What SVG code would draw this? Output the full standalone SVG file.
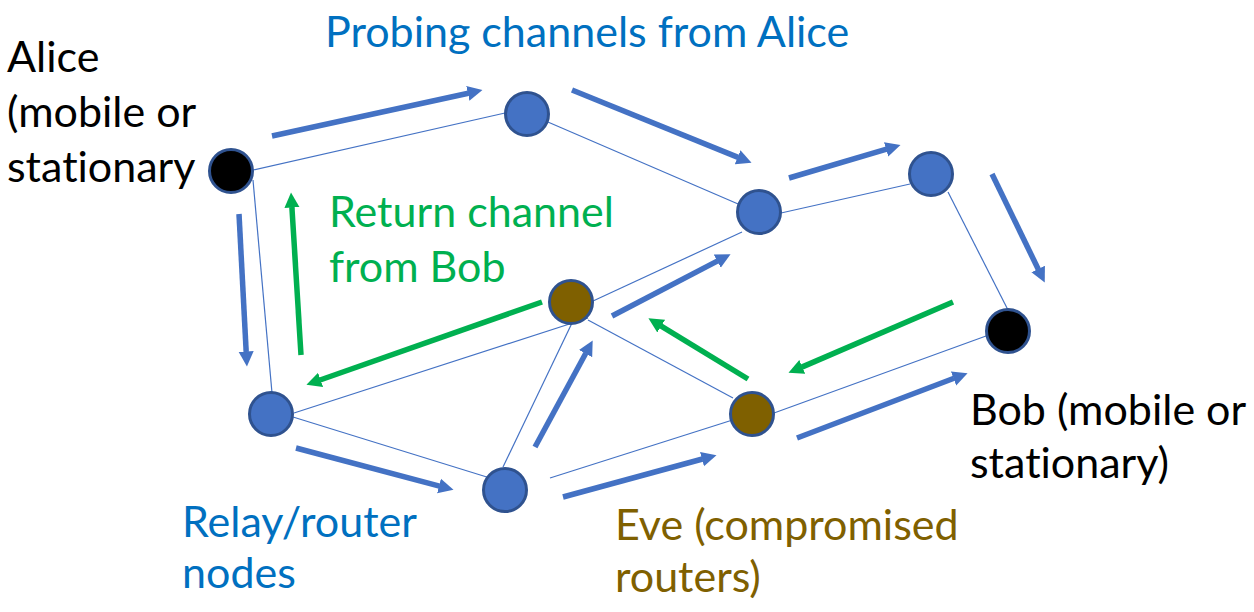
<svg xmlns="http://www.w3.org/2000/svg" width="1254" height="612" viewBox="0 0 1254 612">
<style>
.edge{stroke:#4472C4;stroke-width:1.2;fill:none}
.ab{stroke:#4472C4;stroke-width:5.5;fill:none;marker-end:url(#mb)}
.ag{stroke:#00B050;stroke-width:5.5;fill:none;marker-end:url(#mg)}
.node{stroke:#2F528F;stroke-width:3}
.relay{fill:#4472C4}
.end{fill:#000000}
.eve{fill:#7F6000}
text{font-family:Lato,"Open Sans",sans-serif;font-size:43px;font-variant-ligatures:none}
.tblue{fill:#0070C0}
.tgreen{fill:#00B050}
.tblack{fill:#000000}
.tbrown{fill:#7F6000}
</style>
<defs>
<marker id="mb" markerUnits="userSpaceOnUse" markerWidth="16" markerHeight="16" viewBox="0 0 16 16" refX="0.5" refY="8" orient="auto"><path d="M0,0.5 L15,8 L0,15.5 Z" fill="#4472C4"/></marker>
<marker id="mg" markerUnits="userSpaceOnUse" markerWidth="16" markerHeight="16" viewBox="0 0 16 16" refX="0.5" refY="8" orient="auto"><path d="M0,0.5 L15,8 L0,15.5 Z" fill="#00B050"/></marker>
</defs>
<rect width="1254" height="612" fill="#ffffff"/>
<g id="connectors">
<line class="edge" x1="253" y1="170" x2="505" y2="113"/>
<line class="edge" x1="527" y1="113" x2="759" y2="213"/>
<line class="edge" x1="781" y1="213" x2="910" y2="184"/>
<line class="edge" x1="948" y1="192" x2="1008" y2="310"/>
<line class="edge" x1="253" y1="180" x2="272" y2="393"/>
<line class="edge" x1="294" y1="413" x2="588" y2="318"/>
<line class="edge" x1="593" y1="301" x2="742" y2="232"/>
<line class="edge" x1="293" y1="417" x2="490" y2="478"/>
<line class="edge" x1="503" y1="467" x2="572" y2="323"/>
<line class="edge" x1="588" y1="320" x2="733" y2="398"/>
<line class="edge" x1="550" y1="478" x2="742" y2="417"/>
<line class="edge" x1="774" y1="413" x2="986" y2="336"/>
<line class="ab" x1="272" y1="136" x2="468.3" y2="93.2"/>
<line class="ab" x1="572" y1="90" x2="738.1" y2="157.4"/>
<line class="ab" x1="789" y1="178" x2="886.6" y2="149.2"/>
<line class="ab" x1="992" y1="174" x2="1038.4" y2="269.5"/>
<line class="ab" x1="239" y1="214" x2="246.2" y2="352"/>
<line class="ab" x1="296" y1="448" x2="439.5" y2="486.1"/>
<line class="ab" x1="563" y1="497" x2="702.5" y2="459"/>
<line class="ab" x1="535" y1="447" x2="585.8" y2="353.2"/>
<line class="ab" x1="612" y1="316" x2="717.7" y2="260.9"/>
<line class="ab" x1="797" y1="438" x2="954" y2="378.3"/>
<line class="ag" x1="301" y1="355" x2="291.9" y2="207"/>
<line class="ag" x1="542" y1="302" x2="320.1" y2="380"/>
<line class="ag" x1="748" y1="379" x2="660.8" y2="325.8"/>
<line class="ag" x1="953" y1="302" x2="801.8" y2="367.1"/>
</g>
<g id="alice"><circle class="node end" cx="231" cy="171" r="21.5"/></g>
<g id="r_top"><circle class="node relay" cx="527" cy="114" r="21.5"/></g>
<g id="r_mid"><circle class="node relay" cx="759" cy="212" r="21.5"/></g>
<g id="r_topright"><circle class="node relay" cx="931" cy="174" r="21.5"/></g>
<g id="bob"><circle class="node end" cx="1008" cy="331" r="21.5"/></g>
<g id="eve1"><circle class="node eve" cx="571" cy="302" r="21.5"/></g>
<g id="eve2"><circle class="node eve" cx="752" cy="414" r="21.5"/></g>
<g id="r_left"><circle class="node relay" cx="271" cy="414" r="21.5"/></g>
<g id="r_bottom"><circle class="node relay" cx="505" cy="490" r="21.5"/></g>
<g id="labels">
<text class="tblue" x="325" y="47">Probing channels from Alice</text>
<text class="tblack" x="7" y="72">Alice</text>
<text class="tblack" x="7" y="127">(mobile or</text>
<text class="tblack" x="7" y="182">stationary</text>
<text class="tgreen" x="329" y="227">Return channel</text>
<text class="tgreen" x="329" y="282">from Bob</text>
<text class="tblack" x="970" y="425">Bob (mobile or</text>
<text class="tblack" x="970" y="478">stationary)</text>
<text class="tblue" x="182" y="537">Relay/router</text>
<text class="tblue" x="182" y="588">nodes</text>
<text class="tbrown" x="615" y="540">Eve (compromised</text>
<text class="tbrown" x="615" y="592">routers)</text>
</g>
</svg>
